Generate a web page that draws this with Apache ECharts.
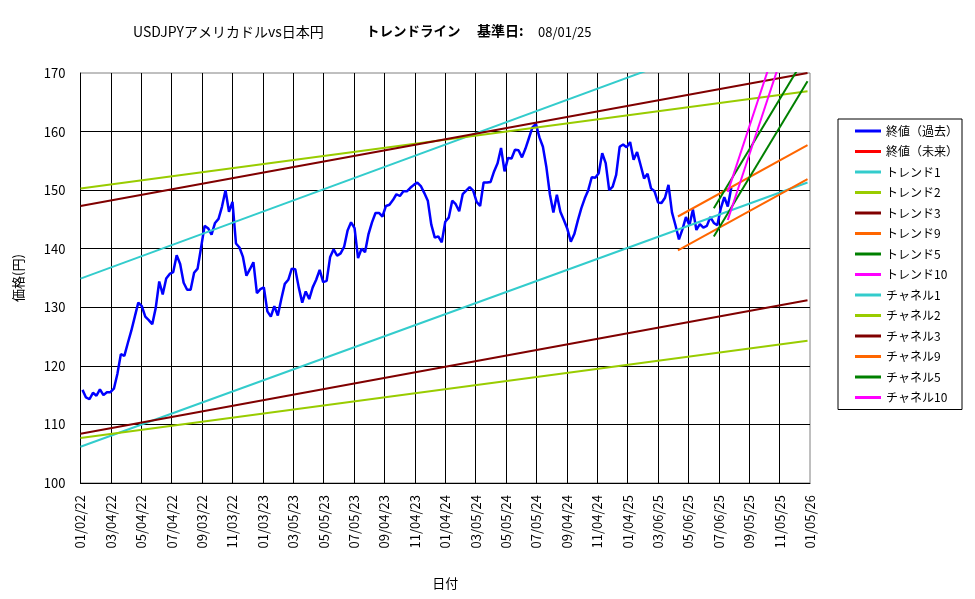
<!DOCTYPE html>
<html>
<head>
<meta charset="utf-8">
<title>USDJPY トレンドライン</title>
<script src="https://cdn.jsdelivr.net/npm/echarts@6/dist/echarts.min.js"></script>
<style>
  html, body { margin: 0; padding: 0; background: #fff; }
  #chart { width: 975px; height: 599px; }
</style>
</head>
<body>
<div id="chart"></div>
<script>
// 軸の範囲（日付は 2022-01-02 からの日数で持つ）
const axisStart = '2022-01-02';
const axisDays = 1464;      // 01/05/26 まで
const tickDays = 61;
const priceMin = 100;
const priceMax = 170;
const priceStep = 10;

// 終値(過去) 週次（木曜）2022-01-06 〜 2025-07-31
const closeStart = '2022-01-06';
const closeStepDays = 7;
const close2022 = [115.9, 114.6, 114.3, 115.4, 114.9, 116.0, 115.0, 115.5, 115.5, 116.1,
  118.6, 122.0, 121.7, 123.9, 126.0, 128.4, 130.8, 130.2, 128.4, 127.8,
  127.1, 129.9, 134.4, 132.2, 134.9, 135.7, 136.0, 138.9, 137.4, 134.2,
  133.0, 133.0, 135.9, 136.6, 140.2, 143.9, 143.5, 142.4, 144.4, 145.1,
  147.2, 150.0, 146.3, 148.0, 140.9, 140.2, 138.6, 135.4, 136.5, 137.7,
  132.4, 133.1];
const close2023 = [133.4, 129.3, 128.4, 130.2, 128.6, 131.4, 134.0, 134.7, 136.6, 136.5,
  133.4, 130.8, 132.7, 131.4, 133.4, 134.7, 136.4, 134.3, 134.5, 138.6,
  139.9, 138.8, 139.2, 140.3, 143.1, 144.5, 143.5, 138.4, 140.0, 139.4,
  142.5, 144.5, 146.1, 146.1, 145.5, 147.3, 147.5, 148.3, 149.3, 149.0,
  149.8, 149.8, 150.4, 150.9, 151.3, 150.7, 149.5, 148.2, 144.1, 141.9,
  142.1, 141.1];
const close2024 = [144.6, 145.3, 148.2, 147.6, 146.4, 149.3, 149.9, 150.5, 149.9, 148.0,
  147.3, 151.3, 151.3, 151.4, 153.2, 154.6, 157.2, 153.2, 155.5, 155.4,
  156.9, 156.8, 155.6, 157.1, 158.9, 160.7, 161.3, 159.0, 157.4, 153.9,
  149.3, 146.2, 149.2, 146.3, 144.9, 143.4, 141.2, 142.5, 144.8, 146.9,
  148.6, 150.0, 152.2, 152.1, 152.9, 156.3, 154.6, 150.0, 150.6, 152.6,
  157.4, 157.8];
const close2025 = [157.3, 158.2, 155.2, 156.5, 154.3, 152.0, 152.8, 150.3, 149.8, 147.9,
  147.8, 148.7, 150.9, 146.2, 144.0, 141.6, 143.3, 145.4, 144.0, 146.7,
  143.2, 144.2, 143.6, 143.9, 145.4, 144.4, 144.0, 146.9, 148.8, 147.2,
  150.4];

// トレンドライン・チャネル（始点日, 始値, 終点日, 終値）
const lineNames = ['トレンド1', 'トレンド2', 'トレンド3', 'トレンド9', 'トレンド5', 'トレンド10',
  'チャネル1', 'チャネル2', 'チャネル3', 'チャネル9', 'チャネル5', 'チャネル10'];
const lineStartDates = ['2022-01-02', '2022-01-02', '2022-01-02', '2025-04-15', '2025-06-26', '2025-07-24',
  '2022-01-02', '2022-01-02', '2022-01-02', '2025-04-15', '2025-06-26', '2025-07-24'];
const lineStartValues = [134.9, 150.3, 147.3, 145.5, 146.9, 149.7,
  106.2, 107.7, 108.4, 139.7, 142.1, 144.9];
const lineEndDates = ['2025-12-31', '2025-12-31', '2025-12-31', '2025-12-31', '2025-12-31', '2025-12-31',
  '2025-12-31', '2025-12-31', '2025-12-31', '2025-12-31', '2025-12-31', '2025-12-31'];
const lineEndValues = [180.5, 166.9, 170.0, 157.7, 173.4, 191.0,
  151.3, 124.3, 131.2, 151.9, 168.6, 186.2];

const lineColors = ['#33CCCC', '#99CC00', '#800000', '#FF6600', '#008000', '#FF00FF',
  '#33CCCC', '#99CC00', '#800000', '#FF6600', '#008000', '#FF00FF'];

const DAY = 86400000;
const startMs = Date.parse(axisStart);
function toDay(s) { return (Date.parse(s) - startMs) / DAY; }
function pad(n) { return (n < 10 ? '0' : '') + n; }
function fmtDay(v) {
  const d = new Date(startMs + v * DAY);
  return pad(d.getUTCMonth() + 1) + '/' + pad(d.getUTCDate()) + '/' + pad(d.getUTCFullYear() % 100);
}

const closeValues = close2022.concat(close2023, close2024, close2025);
const closeFirst = toDay(closeStart);
const closeData = closeValues.map((v, i) => [closeFirst + i * closeStepDays, v]);

const FONT = '"Noto Sans CJK JP", "Noto Sans", sans-serif';

let series = [
  {
    name: '終値（過去）', type: 'line', data: closeData, showSymbol: false, symbol: 'none',
    color: '#0000FF', lineStyle: { width: 2.5, color: '#0000FF' }, clip: true, z: 2
  },
  {
    name: '終値（未来）', type: 'line', data: [], showSymbol: false, symbol: 'none',
    color: '#FF0000', lineStyle: { width: 2, color: '#FF0000' }
  }
];
lineNames.forEach((name, i) => {
  series.push({
    name: name,
    type: 'line',
    symbol: 'none',
    showSymbol: false,
    clip: true,
    color: lineColors[i],
    lineStyle: { width: 2, color: lineColors[i] },
    z: 3,
    data: [
      [toDay(lineStartDates[i]), lineStartValues[i]],
      [toDay(lineEndDates[i]), lineEndValues[i]]
    ]
  });
});

const chart = echarts.init(document.getElementById('chart'));
const option = {
  animation: false,
  backgroundColor: '#fff',
  textStyle: { fontFamily: FONT },
  graphic: [
    { type: 'text', left: 133, top: 25, style: { text: 'USDJPYアメリカドルvs日本円', font: '14px ' + FONT, fill: '#000' } },
    { type: 'text', left: 366, top: 24, style: { text: 'トレンドライン', font: 'bold 13.5px ' + FONT, fill: '#000' } },
    { type: 'text', left: 477, top: 24, style: { text: '基準日:', font: 'bold 14px ' + FONT, fill: '#000' } },
    { type: 'text', left: 538, top: 26, style: { text: '08/01/25', font: '13px ' + FONT, fill: '#000' } }
  ],
  grid: {
    left: 80.5, right: 165, top: 73, bottom: 116,
    show: true, borderColor: '#808080', borderWidth: 1, backgroundColor: '#fff'
  },
  legend: {
    orient: 'vertical',
    left: 838,
    top: 119,
    padding: [5, 4, 5, 17],
    itemGap: 6.5,
    itemWidth: 26,
    itemHeight: 3,
    icon: 'rect',
    borderColor: '#000',
    borderWidth: 1,
    backgroundColor: '#fff',
    textStyle: { fontSize: 12, lineHeight: 14, color: '#000', fontFamily: FONT },
    data: ['終値（過去）', '終値（未来）'].concat(lineNames)
  },
  xAxis: {
    type: 'value',
    min: 0,
    max: axisDays,
    interval: tickDays,
    name: '日付',
    nameLocation: 'middle',
    nameGap: 94,
    nameTextStyle: { fontSize: 13, color: '#000' },
    axisLine: { show: true, onZero: false, lineStyle: { color: '#000', width: 1 } },
    axisTick: { show: false },
    axisLabel: {
      rotate: 90, margin: 12, fontSize: 13, color: '#000',
      formatter: fmtDay
    },
    splitLine: { show: true, showMaxLine: false, lineStyle: { color: '#000', width: 1 } }
  },
  yAxis: {
    type: 'value',
    min: priceMin,
    max: priceMax,
    interval: priceStep,
    name: '価格(円)',
    nameLocation: 'middle',
    nameRotate: 90,
    nameGap: 56,
    nameTextStyle: { fontSize: 13, color: '#000' },
    axisLine: { show: true, lineStyle: { color: '#000', width: 1 } },
    axisTick: { show: false },
    axisLabel: { margin: 15, fontSize: 13, color: '#000' },
    splitLine: { show: true, showMaxLine: false, lineStyle: { color: '#000', width: 1 } }
  },
  series: series
};
chart.setOption(option);
</script>
</body>
</html>
